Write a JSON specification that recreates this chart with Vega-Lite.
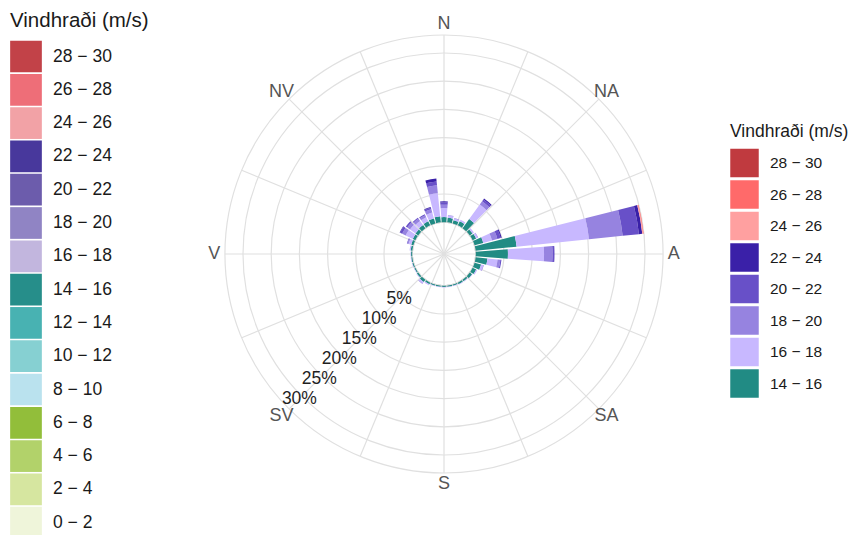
{
  "$schema": "https://vega.github.io/schema/vega-lite/v6.json",
  "width": 838,
  "height": 508,
  "autosize": {"type": "none"},
  "padding": {"left": 25, "top": 0, "right": 0, "bottom": 27},
  "background": "white",
  "config": {"view": {"stroke": null}, "font": "Liberation Sans"},
  "datasets": {
    "rings": [{"r": 5}, {"r": 10}, {"r": 15}, {"r": 20}, {"r": 25}, {"r": 30}, {"r": 33.19}],
    "spokes": [{"a": 0}, {"a": 22.5}, {"a": 45}, {"a": 67.5}, {"a": 90}, {"a": 112.5}, {"a": 135}, {"a": 157.5}, {"a": 180}, {"a": 202.5}, {"a": 225}, {"a": 247.5}, {"a": 270}, {"a": 292.5}, {"a": 315}, {"a": 337.5}],
    "dirs": [{"a": 0, "t": "N"}, {"a": 45, "t": "NA"}, {"a": 90, "t": "A"}, {"a": 135, "t": "SA"}, {"a": 180, "t": "S"}, {"a": 225, "t": "SV"}, {"a": 270, "t": "V"}, {"a": 315, "t": "NV"}],
    "pcts": [{"p": 5, "t": "5%"}, {"p": 10, "t": "10%"}, {"p": 15, "t": "15%"}, {"p": 20, "t": "20%"}, {"p": 25, "t": "25%"}, {"p": 30, "t": "30%"}],
    "allbins": [{"bin": "28 − 30"}, {"bin": "26 − 28"}, {"bin": "24 − 26"}, {"bin": "22 − 24"}, {"bin": "20 − 22"}, {"bin": "18 − 20"}, {"bin": "16 − 18"}, {"bin": "14 − 16"}, {"bin": "12 − 14"}, {"bin": "10 − 12"}, {"bin": "8 − 10"}, {"bin": "6 − 8"}, {"bin": "4 − 6"}, {"bin": "2 − 4"}, {"bin": "0 − 2"}],
    "wind": [
      {"dir": 0, "bin": "14 − 16", "pct": 0.9}, {"dir": 0, "bin": "16 − 18", "pct": 1.6}, {"dir": 0, "bin": "18 − 20", "pct": 0.6}, {"dir": 0, "bin": "20 − 22", "pct": 0.4}, {"dir": 0, "bin": "22 − 24", "pct": 0.2},
      {"dir": 10, "bin": "14 − 16", "pct": 0.8}, {"dir": 10, "bin": "16 − 18", "pct": 0.4}, {"dir": 10, "bin": "18 − 20", "pct": 0.1},
      {"dir": 20, "bin": "14 − 16", "pct": 0.6}, {"dir": 20, "bin": "16 − 18", "pct": 0.3}, {"dir": 20, "bin": "18 − 20", "pct": 0.1},
      {"dir": 30, "bin": "14 − 16", "pct": 0.8}, {"dir": 30, "bin": "16 − 18", "pct": 0.3},
      {"dir": 40, "bin": "14 − 16", "pct": 2.0}, {"dir": 40, "bin": "16 − 18", "pct": 3.2}, {"dir": 40, "bin": "18 − 20", "pct": 0.7}, {"dir": 40, "bin": "20 − 22", "pct": 0.4}, {"dir": 40, "bin": "22 − 24", "pct": 0.2},
      {"dir": 50, "bin": "14 − 16", "pct": 0.6}, {"dir": 50, "bin": "16 − 18", "pct": 0.3},
      {"dir": 60, "bin": "14 − 16", "pct": 0.7}, {"dir": 60, "bin": "16 − 18", "pct": 0.3}, {"dir": 60, "bin": "18 − 20", "pct": 0.1},
      {"dir": 70, "bin": "14 − 16", "pct": 1.6}, {"dir": 70, "bin": "16 − 18", "pct": 1.6}, {"dir": 70, "bin": "18 − 20", "pct": 1.0}, {"dir": 70, "bin": "20 − 22", "pct": 0.6}, {"dir": 70, "bin": "22 − 24", "pct": 0.2},
      {"dir": 80, "bin": "14 − 16", "pct": 7.3}, {"dir": 80, "bin": "16 − 18", "pct": 12.9}, {"dir": 80, "bin": "18 − 20", "pct": 6.0}, {"dir": 80, "bin": "20 − 22", "pct": 2.9}, {"dir": 80, "bin": "22 − 24", "pct": 0.6}, {"dir": 80, "bin": "24 − 26", "pct": 0.15}, {"dir": 80, "bin": "26 − 28", "pct": 0.1},
      {"dir": 90, "bin": "14 − 16", "pct": 5.7}, {"dir": 90, "bin": "16 − 18", "pct": 6.4}, {"dir": 90, "bin": "18 − 20", "pct": 1.5}, {"dir": 90, "bin": "20 − 22", "pct": 0.3}, {"dir": 90, "bin": "22 − 24", "pct": 0.05},
      {"dir": 100, "bin": "14 − 16", "pct": 2.1}, {"dir": 100, "bin": "16 − 18", "pct": 1.8}, {"dir": 100, "bin": "18 − 20", "pct": 0.5}, {"dir": 100, "bin": "20 − 22", "pct": 0.2},
      {"dir": 110, "bin": "14 − 16", "pct": 1.2}, {"dir": 110, "bin": "16 − 18", "pct": 0.4}, {"dir": 110, "bin": "18 − 20", "pct": 0.1},
      {"dir": 120, "bin": "14 − 16", "pct": 0.7}, {"dir": 120, "bin": "16 − 18", "pct": 0.2},
      {"dir": 130, "bin": "14 − 16", "pct": 0.5}, {"dir": 130, "bin": "16 − 18", "pct": 0.1},
      {"dir": 140, "bin": "14 − 16", "pct": 0.3}, {"dir": 140, "bin": "16 − 18", "pct": 0.1},
      {"dir": 150, "bin": "14 − 16", "pct": 0.3}, {"dir": 150, "bin": "16 − 18", "pct": 0.1},
      {"dir": 160, "bin": "14 − 16", "pct": 0.2}, {"dir": 160, "bin": "16 − 18", "pct": 0.1},
      {"dir": 170, "bin": "14 − 16", "pct": 0.2}, {"dir": 170, "bin": "16 − 18", "pct": 0.1},
      {"dir": 180, "bin": "14 − 16", "pct": 0.2}, {"dir": 180, "bin": "16 − 18", "pct": 0.1},
      {"dir": 190, "bin": "14 − 16", "pct": 0.2}, {"dir": 190, "bin": "16 − 18", "pct": 0.1},
      {"dir": 200, "bin": "14 − 16", "pct": 0.2}, {"dir": 200, "bin": "16 − 18", "pct": 0.1},
      {"dir": 210, "bin": "14 − 16", "pct": 0.3}, {"dir": 210, "bin": "16 − 18", "pct": 0.2},
      {"dir": 220, "bin": "14 − 16", "pct": 0.5}, {"dir": 220, "bin": "16 − 18", "pct": 0.3}, {"dir": 220, "bin": "18 − 20", "pct": 0.1},
      {"dir": 230, "bin": "14 − 16", "pct": 0.3}, {"dir": 230, "bin": "16 − 18", "pct": 0.1},
      {"dir": 240, "bin": "14 − 16", "pct": 0.2}, {"dir": 240, "bin": "16 − 18", "pct": 0.1},
      {"dir": 250, "bin": "14 − 16", "pct": 0.2}, {"dir": 250, "bin": "16 − 18", "pct": 0.1},
      {"dir": 260, "bin": "14 − 16", "pct": 0.2}, {"dir": 260, "bin": "16 − 18", "pct": 0.1},
      {"dir": 270, "bin": "14 − 16", "pct": 0.2}, {"dir": 270, "bin": "16 − 18", "pct": 0.1},
      {"dir": 280, "bin": "14 − 16", "pct": 0.3}, {"dir": 280, "bin": "16 − 18", "pct": 0.2},
      {"dir": 290, "bin": "14 − 16", "pct": 0.4}, {"dir": 290, "bin": "16 − 18", "pct": 0.5}, {"dir": 290, "bin": "18 − 20", "pct": 0.2}, {"dir": 290, "bin": "20 − 22", "pct": 0.1},
      {"dir": 300, "bin": "14 − 16", "pct": 0.5}, {"dir": 300, "bin": "16 − 18", "pct": 1.4}, {"dir": 300, "bin": "18 − 20", "pct": 0.7}, {"dir": 300, "bin": "20 − 22", "pct": 0.4}, {"dir": 300, "bin": "22 − 24", "pct": 0.1},
      {"dir": 310, "bin": "14 − 16", "pct": 0.6}, {"dir": 310, "bin": "16 − 18", "pct": 1.2}, {"dir": 310, "bin": "18 − 20", "pct": 0.6}, {"dir": 310, "bin": "20 − 22", "pct": 0.3},
      {"dir": 320, "bin": "14 − 16", "pct": 0.7}, {"dir": 320, "bin": "16 − 18", "pct": 0.9}, {"dir": 320, "bin": "18 − 20", "pct": 0.5}, {"dir": 320, "bin": "20 − 22", "pct": 0.2},
      {"dir": 330, "bin": "14 − 16", "pct": 0.8}, {"dir": 330, "bin": "16 − 18", "pct": 0.8}, {"dir": 330, "bin": "18 − 20", "pct": 0.4}, {"dir": 330, "bin": "20 − 22", "pct": 0.2},
      {"dir": 340, "bin": "14 − 16", "pct": 0.9}, {"dir": 340, "bin": "16 − 18", "pct": 1.1}, {"dir": 340, "bin": "18 − 20", "pct": 0.6}, {"dir": 340, "bin": "20 − 22", "pct": 0.3}, {"dir": 340, "bin": "22 − 24", "pct": 0.1},
      {"dir": 350, "bin": "14 − 16", "pct": 1.1}, {"dir": 350, "bin": "16 − 18", "pct": 4.1}, {"dir": 350, "bin": "18 − 20", "pct": 1.4}, {"dir": 350, "bin": "20 − 22", "pct": 0.7}, {"dir": 350, "bin": "22 − 24", "pct": 0.5}
    ]
  },
  "layer": [
    {
      "data": {"name": "rings"},
      "mark": {"type": "arc", "filled": false, "stroke": "#e0e0e0", "strokeWidth": 1.2, "theta": 0, "theta2": 6.2832},
      "encoding": {
        "radius": {"field": "r", "type": "quantitative", "stack": null, "scale": {"type": "linear", "domain": [-5.64, 33.19], "range": [0, 219], "zero": false, "nice": false}}
      }
    },
    {
      "data": {"name": "spokes"},
      "mark": {"type": "arc", "filled": false, "stroke": "#e0e0e0", "strokeWidth": 1.2},
      "encoding": {
        "theta": {"field": "a", "type": "quantitative", "stack": null, "scale": {"type": "linear", "domain": [0, 360], "range": [0, 6.283185307179586], "zero": false, "nice": false}},
        "theta2": {"field": "a"},
        "radius": {"datum": 33.19, "type": "quantitative", "scale": {"type": "linear", "domain": [-5.64, 33.19], "range": [0, 219], "zero": false, "nice": false}},
        "radius2": {"datum": -5.64}
      }
    },
    {
      "data": {"values": [{"k": 1}]},
      "mark": {"type": "arc", "fill": "#d9d9d9", "theta": 0, "theta2": 6.2832},
      "encoding": {
        "radius": {"datum": 0.15, "type": "quantitative", "scale": {"type": "linear", "domain": [-5.64, 33.19], "range": [0, 219], "zero": false, "nice": false}}
      }
    },
    {
      "data": {"name": "wind"},
      "transform": [
        {"stack": "pct", "groupby": ["dir"], "sort": [{"field": "bin", "order": "ascending"}], "as": ["r0", "r1"]}
      ],
      "mark": {"type": "arc", "strokeWidth": 0},
      "encoding": {
        "theta": {"field": "dir", "type": "ordinal", "scale": {"type": "band", "domain": [0, 10, 20, 30, 40, 50, 60, 70, 80, 90, 100, 110, 120, 130, 140, 150, 160, 170, 180, 190, 200, 210, 220, 230, 240, 250, 260, 270, 280, 290, 300, 310, 320, 330, 340, 350], "range": [-0.0872665, 6.1959188], "paddingInner": 0.16, "paddingOuter": 0.08}},
        "radius": {"field": "r1", "type": "quantitative", "stack": null, "scale": {"type": "linear", "domain": [-5.64, 33.19], "range": [0, 219], "zero": false, "nice": false}},
        "radius2": {"field": "r0"},
        "color": {
          "field": "bin", "type": "nominal",
          "scale": {"domain": ["28 − 30", "26 − 28", "24 − 26", "22 − 24", "20 − 22", "18 − 20", "16 − 18", "14 − 16"],
                    "range": ["#c03a3f", "#ff6a6a", "#ffa0a0", "#3a20a8", "#6850c8", "#9683e0", "#c8b8ff", "#218b84"]},
          "legend": {"orient": "none", "legendX": 705, "legendY": 123, "title": "Vindhraði (m/s)", "titleFont": "Liberation Sans", "titleFontSize": 17.5, "titleFontWeight": "normal", "titleColor": "#1a1a1a", "titlePadding": 8, "titleLimit": 300, "labelFont": "Liberation Sans", "labelFontSize": 15.5, "labelColor": "#1a1a1a", "labelOffset": 11, "labelLimit": 200, "symbolType": "square", "symbolSize": 812, "symbolStrokeWidth": 0, "rowPadding": 2.5, "padding": 0}
        }
      }
    },
    {
      "data": {"name": "dirs"},
      "mark": {"type": "text", "font": "Liberation Sans", "fontSize": 18, "fill": "#555555", "align": "center", "baseline": "middle"},
      "encoding": {
        "theta": {"field": "a", "type": "quantitative", "stack": null, "scale": {"type": "linear", "domain": [0, 360], "range": [0, 6.283185307179586], "zero": false, "nice": false}},
        "radius": {"datum": 35.1, "type": "quantitative", "scale": {"type": "linear", "domain": [-5.64, 33.19], "range": [0, 219], "zero": false, "nice": false}},
        "text": {"field": "t"}
      }
    },
    {
      "data": {"name": "pcts"},
      "mark": {"type": "text", "font": "Liberation Sans", "fontSize": 17.5, "fill": "#1f1f1f", "align": "center", "baseline": "middle", "radiusOffset": 3.5},
      "encoding": {
        "theta": {"datum": 225, "type": "quantitative", "scale": {"type": "linear", "domain": [0, 360], "range": [0, 6.283185307179586], "zero": false, "nice": false}},
        "radius": {"field": "p", "type": "quantitative", "stack": null, "scale": {"type": "linear", "domain": [-5.64, 33.19], "range": [0, 219], "zero": false, "nice": false}},
        "text": {"field": "t"}
      }
    },
    {
      "data": {"name": "allbins"},
      "mark": {"type": "arc", "radius": 0, "theta": 0, "theta2": 0},
      "encoding": {
        "color": {
          "field": "bin", "type": "nominal",
          "scale": {"domain": ["28 − 30", "26 − 28", "24 − 26", "22 − 24", "20 − 22", "18 − 20", "16 − 18", "14 − 16", "12 − 14", "10 − 12", "8 − 10", "6 − 8", "4 − 6", "2 − 4", "0 − 2"],
                    "range": ["#c24248", "#ee6e78", "#f2a2a6", "#48389c", "#6c5cac", "#9084c4", "#c2b6de", "#268e8a", "#48b2b2", "#86d0d2", "#bae2ee", "#92be3a", "#b2d26a", "#d6e6a0", "#eff5da"]},
          "legend": {"orient": "none", "legendX": -15, "legendY": 11, "title": "Vindhraði (m/s)", "titleFont": "Liberation Sans", "titleFontSize": 20.5, "titleFontWeight": "normal", "titleColor": "#1a1a1a", "titlePadding": 9, "titleLimit": 300, "labelFont": "Liberation Sans", "labelFontSize": 17.5, "labelColor": "#1a1a1a", "labelOffset": 11, "labelLimit": 200, "symbolType": "square", "symbolSize": 1005, "symbolStrokeWidth": 0, "rowPadding": 1.3, "padding": 0, "symbolLimit": 50}
        }
      }
    }
  ],
  "resolve": {"scale": {"theta": "independent", "color": "independent"}, "legend": {"color": "independent"}}
}
